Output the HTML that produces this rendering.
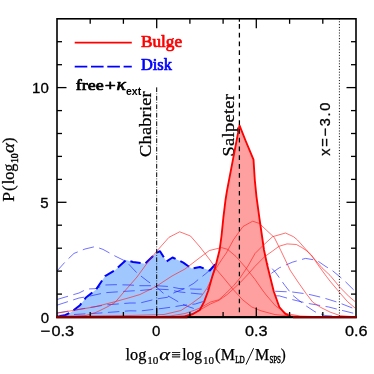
<!DOCTYPE html>
<html><head><meta charset="utf-8"><title>P(log alpha)</title>
<style>html,body{margin:0;padding:0;background:#fff;}svg{display:block;will-change:transform;}</style>
</head><body>
<svg width="374" height="374" viewBox="0 0 374 374">
<rect width="374" height="374" fill="#fff"/>
<defs><clipPath id="c"><rect x="57.0" y="18.8" width="299.0" height="298.2"/></clipPath></defs>
<g transform="translate(150.6,156.9) rotate(-90) scale(1.15,1)" fill="#000" stroke="#000" stroke-width="0.25"><text x="0" y="0" font-family="Liberation Serif, serif" font-size="16" letter-spacing="0.15">Chabrier</text></g>
<g transform="translate(233.8,156.4) rotate(-90) scale(1.15,1)" fill="#000" stroke="#000" stroke-width="0.25"><text x="0" y="0" font-family="Liberation Serif, serif" font-size="16" letter-spacing="0.25">Salpeter</text></g>
<g transform="translate(330.4,155.7) rotate(-90)" fill="#000" stroke="#000" stroke-width="0.3"><text x="0" y="0" font-family="Liberation Sans, sans-serif" font-size="14.5" letter-spacing="1.75">x=−3.0</text></g>
<g clip-path="url(#c)" fill="none" stroke-linejoin="round">
<polygon points="57.0,316.8 65.0,315.2 71.0,312.2 80.0,305.2 86.0,297.5 96.1,289.5 105.1,276.1 115.2,270.0 126.2,260.0 133.0,262.0 145.0,263.7 156.0,253.2 160.0,251.2 166.5,261.4 172.5,257.5 183.3,262.6 191.7,268.6 200.0,267.0 209.8,270.5 214.6,265.0 222.0,262.0 240.0,300.0 250.0,317.0 57.0,317.0" fill="#a0c8ff" stroke="none"/>
<polyline points="57.0,271.0 66.0,261.0 74.0,253.4 85.0,249.0 95.1,246.6 103.0,249.4 115.0,256.0 126.2,261.5 137.0,273.0 148.0,281.5 157.0,287.5 163.0,293.0 173.2,298.8 182.0,304.0 188.0,306.5 195.3,309.0 205.0,312.0 220.0,315.0 240.0,316.5" stroke="#1818ff" stroke-width="0.62" stroke-dasharray="11.5 5.5"/>
<polyline points="57.0,299.5 79.0,293.0 87.0,289.0 95.0,288.7 105.0,285.0 115.0,284.7 130.0,285.0 140.0,285.7 156.0,285.7 169.0,286.5 179.0,288.5 196.8,289.2 207.0,289.2 240.0,290.0 273.7,291.2 292.4,292.0 307.4,294.0 323.0,297.7 338.0,302.4 355.0,309.0" stroke="#1818ff" stroke-width="0.62" stroke-dasharray="11.5 5.5"/>
<polyline points="57.0,305.2 79.0,298.0 87.0,296.7 105.0,292.7 130.0,291.0 140.0,290.5 156.0,289.0 169.0,289.7 180.0,292.0 200.0,294.0 240.0,295.0 279.3,295.9 292.4,299.6 307.4,303.3 328.7,307.0 343.7,310.8 355.0,313.6" stroke="#1818ff" stroke-width="0.62" stroke-dasharray="11.5 5.5"/>
<polyline points="57.0,313.0 75.0,310.0 105.0,305.0 130.0,303.0 140.0,303.0 156.0,299.0 167.4,297.3 172.0,293.7 179.0,290.7 185.0,288.5 193.8,283.3 198.2,279.6 205.6,273.8 211.5,268.6 225.0,255.0 240.0,250.0 255.0,254.0 267.2,263.0 275.6,272.5 285.0,285.6 292.4,295.0 303.7,304.3 315.0,311.8 325.0,315.5 340.0,316.6" stroke="#1818ff" stroke-width="0.62" stroke-dasharray="11.5 5.5"/>
<polyline points="57.0,315.5 100.0,313.0 130.0,310.8 140.0,311.0 163.0,308.3 173.2,306.9 182.0,305.4 195.3,304.0 202.6,301.7 230.0,292.0 255.0,282.0 270.0,274.3 279.3,267.8 292.4,262.2 305.5,258.4 316.8,260.3 325.0,266.0 332.4,270.6 343.7,280.0 355.0,291.2" stroke="#1818ff" stroke-width="0.62" stroke-dasharray="11.5 5.5"/>
<polyline points="57.0,316.8 65.0,315.2 71.0,312.2 80.0,305.2 86.0,297.5 96.1,289.5 105.1,276.1 115.2,270.0 126.2,260.0 133.0,262.0 145.0,263.7 156.0,253.2 160.0,251.2 166.5,261.4 172.5,257.5 183.3,262.6 191.7,268.6 200.0,267.0 209.8,270.5 214.6,265.0 222.0,262.0" stroke="#0000ff" stroke-width="2.0" stroke-dasharray="10.4 5.2" stroke-dashoffset="13.1"/>
<polygon points="57.0,317.0 170.0,317.0 185.0,316.5 193.0,314.0 199.8,310.0 204.1,301.9 208.4,290.2 212.2,276.7 215.5,266.4 219.6,250.0 221.5,236.0 223.4,217.4 225.5,200.0 227.0,190.6 239.5,125.3 245.5,140.5 253.5,159.6 254.8,180.0 256.5,196.8 259.3,217.4 262.0,236.0 264.0,250.0 267.2,265.0 273.7,291.2 279.3,307.0 285.0,313.6 290.6,316.4 300.0,317.0 356.0,317.0" fill="#ffa0a0" stroke="none"/>
<polyline points="57.0,313.2 95.0,306.8 115.0,301.7 130.0,297.5 140.0,294.5 156.0,286.5 172.0,276.0 185.0,269.0 200.0,257.5 209.4,250.5 221.5,247.6 227.5,249.3 236.0,256.5 245.5,267.4 255.0,279.4 262.4,290.0 266.2,295.0 275.6,306.0 286.8,313.6 300.0,316.0 320.0,316.8" stroke="#ff1818" stroke-width="0.62"/>
<polyline points="57.0,316.5 75.0,316.2 85.0,315.6 90.0,314.3 95.0,312.8 100.0,310.5 108.0,306.5 115.0,302.5 123.0,293.0 130.0,285.0 137.0,277.0 145.0,266.0 156.0,252.0 169.0,237.3 179.7,231.8 190.5,236.0 200.0,247.0 210.0,260.0 216.7,269.8 223.7,278.0 233.0,289.3 242.4,299.6 251.8,307.0 261.0,310.8 275.0,314.6 300.0,316.8" stroke="#ff1818" stroke-width="0.62"/>
<polyline points="57.0,316.3 130.0,315.5 164.0,314.5 181.0,310.5 191.0,304.0 201.0,296.7 207.0,288.2 210.6,281.0 215.3,269.6 221.8,259.4 226.3,253.0 233.5,239.7 243.0,226.5 252.7,221.2 259.3,223.4 266.8,230.5 274.3,237.5 280.7,250.3 287.0,263.5 290.0,270.0 298.0,282.0 306.0,293.4 312.7,302.1 320.7,307.4 330.1,312.1 340.0,315.6 355.0,316.8" stroke="#ff1818" stroke-width="0.62"/>
<polyline points="150.0,317.0 170.0,316.0 185.0,313.5 195.0,310.0 201.0,307.5 210.6,302.0 219.0,299.7 226.3,293.0 233.5,285.8 240.0,278.0 248.0,266.0 255.0,253.5 263.0,245.5 272.6,236.7 285.5,233.0 293.5,236.7 297.5,240.0 307.0,250.7 311.4,255.0 317.8,264.6 326.4,276.4 330.6,281.8 340.0,293.0 347.4,301.5 355.0,308.0" stroke="#ff1818" stroke-width="0.62"/>
<polyline points="170.0,317.0 190.0,315.0 201.0,309.3 210.6,303.9 219.0,300.3 227.5,294.3 240.0,282.8 248.0,274.3 255.0,266.3 264.6,256.7 272.6,251.0 279.0,246.3 287.0,243.9 296.4,244.5 301.8,247.5 307.0,251.0 313.5,258.0 322.0,267.8 330.0,275.3 340.0,287.4 349.3,296.8 355.0,301.5" stroke="#ff1818" stroke-width="0.62"/>
</g>
<polyline points="185.0,316.5 193.0,314.0 199.8,310.0 204.1,301.9 208.4,290.2 212.2,276.7 215.5,266.4 219.6,250.0 221.5,236.0 223.4,217.4 225.5,200.0 227.0,190.6 239.5,125.3 245.5,140.5 253.5,159.6 254.8,180.0 256.5,196.8 259.3,217.4 262.0,236.0 264.0,250.0 267.2,265.0 273.7,291.2 279.3,307.0 285.0,313.6 290.6,316.4 300.0,317.0" fill="none" stroke="#ff0000" stroke-width="1.85" stroke-linejoin="round"/>
<line x1="156.7" y1="87.35" x2="156.7" y2="317.0" stroke="#000" stroke-width="1.0" stroke-dasharray="4.7 1.5 0.7 1.6"/>
<line x1="239.4" y1="18.8" x2="239.4" y2="21.7" stroke="#000" stroke-width="1.25"/>
<line x1="239.4" y1="24.1" x2="239.4" y2="164.1" stroke="#000" stroke-width="1.25" stroke-dasharray="4.6 4.15"/>
<line x1="239.4" y1="164.1" x2="239.4" y2="317.0" stroke="#000" stroke-width="1.25" stroke-dasharray="4.6 4.37"/>
<line x1="339.4" y1="18.5" x2="339.4" y2="317.0" stroke="#000" stroke-width="1" stroke-dasharray="1 1.8"/>
<rect x="57.0" y="18.8" width="299.0" height="298.2" stroke="#000" stroke-width="1.6" fill="none"/>
<g stroke="#000" stroke-width="1.3" fill="none">
<line x1="90.2" y1="317.0" x2="90.2" y2="312.0"/>
<line x1="90.2" y1="18.8" x2="90.2" y2="23.8"/>
<line x1="123.4" y1="317.0" x2="123.4" y2="312.0"/>
<line x1="123.4" y1="18.8" x2="123.4" y2="23.8"/>
<line x1="156.7" y1="317.0" x2="156.7" y2="307.5"/>
<line x1="156.7" y1="18.8" x2="156.7" y2="28.3"/>
<line x1="189.9" y1="317.0" x2="189.9" y2="312.0"/>
<line x1="189.9" y1="18.8" x2="189.9" y2="23.8"/>
<line x1="223.1" y1="317.0" x2="223.1" y2="312.0"/>
<line x1="223.1" y1="18.8" x2="223.1" y2="23.8"/>
<line x1="256.3" y1="317.0" x2="256.3" y2="307.5"/>
<line x1="256.3" y1="18.8" x2="256.3" y2="28.3"/>
<line x1="289.6" y1="317.0" x2="289.6" y2="312.0"/>
<line x1="289.6" y1="18.8" x2="289.6" y2="23.8"/>
<line x1="322.8" y1="317.0" x2="322.8" y2="312.0"/>
<line x1="322.8" y1="18.8" x2="322.8" y2="23.8"/>
<line x1="57.0" y1="294.1" x2="62.0" y2="294.1"/>
<line x1="356.0" y1="294.1" x2="351.0" y2="294.1"/>
<line x1="57.0" y1="271.1" x2="62.0" y2="271.1"/>
<line x1="356.0" y1="271.1" x2="351.0" y2="271.1"/>
<line x1="57.0" y1="248.2" x2="62.0" y2="248.2"/>
<line x1="356.0" y1="248.2" x2="351.0" y2="248.2"/>
<line x1="57.0" y1="225.2" x2="62.0" y2="225.2"/>
<line x1="356.0" y1="225.2" x2="351.0" y2="225.2"/>
<line x1="57.0" y1="202.3" x2="66.5" y2="202.3"/>
<line x1="356.0" y1="202.3" x2="346.5" y2="202.3"/>
<line x1="57.0" y1="179.4" x2="62.0" y2="179.4"/>
<line x1="356.0" y1="179.4" x2="351.0" y2="179.4"/>
<line x1="57.0" y1="156.4" x2="62.0" y2="156.4"/>
<line x1="356.0" y1="156.4" x2="351.0" y2="156.4"/>
<line x1="57.0" y1="133.5" x2="62.0" y2="133.5"/>
<line x1="356.0" y1="133.5" x2="351.0" y2="133.5"/>
<line x1="57.0" y1="110.6" x2="62.0" y2="110.6"/>
<line x1="356.0" y1="110.6" x2="351.0" y2="110.6"/>
<line x1="57.0" y1="87.6" x2="66.5" y2="87.6"/>
<line x1="356.0" y1="87.6" x2="346.5" y2="87.6"/>
<line x1="57.0" y1="64.7" x2="62.0" y2="64.7"/>
<line x1="356.0" y1="64.7" x2="351.0" y2="64.7"/>
<line x1="57.0" y1="41.7" x2="62.0" y2="41.7"/>
<line x1="356.0" y1="41.7" x2="351.0" y2="41.7"/>
</g>
<line x1="56.2" y1="317.15" x2="356.8" y2="317.15" stroke="#000" stroke-width="2.0"/>
<line x1="56.2" y1="317.2" x2="187.5" y2="317.2" stroke="#840000" stroke-width="2.2"/>
<line x1="293" y1="317.2" x2="356.8" y2="317.2" stroke="#840000" stroke-width="2.2"/>
<g fill="#000" stroke="#000" stroke-width="0.3" text-anchor="end">
<text x="48.8" y="93.1" font-family="Liberation Sans, sans-serif" font-size="15" >10</text>
<text x="48.6" y="208.3" font-family="Liberation Sans, sans-serif" font-size="15" >5</text>
<text x="49.0" y="323.1" font-family="Liberation Sans, sans-serif" font-size="15" >0</text>
</g>
<g fill="#000" stroke="#000" stroke-width="0.3">
<text x="40.6" y="336.2" font-family="Liberation Sans, sans-serif" font-size="15" textLength="9.8" lengthAdjust="spacingAndGlyphs" >−</text>
<text x="51.4" y="336.2" font-family="Liberation Sans, sans-serif" font-size="15" textLength="22.6" lengthAdjust="spacingAndGlyphs" >0.3</text>
<text x="152.0" y="336.2" font-family="Liberation Sans, sans-serif" font-size="15" >0</text>
<text x="244.9" y="336.2" font-family="Liberation Sans, sans-serif" font-size="15" textLength="22.6" lengthAdjust="spacingAndGlyphs" >0.3</text>
<text x="345.0" y="336.2" font-family="Liberation Sans, sans-serif" font-size="15" textLength="22.6" lengthAdjust="spacingAndGlyphs" >0.6</text>
</g>
<line x1="74.7" y1="42.7" x2="131.8" y2="42.7" stroke="#ff0000" stroke-width="1.7"/>
<line x1="74.7" y1="66.6" x2="131.8" y2="66.6" stroke="#0000ff" stroke-width="1.7" stroke-dasharray="12.6 3.7"/>
<text x="140.9" y="46.5" font-family="Liberation Serif, serif" font-size="16" textLength="41.2" lengthAdjust="spacingAndGlyphs" stroke-width="0.7" stroke-linejoin="round" fill="#ff0000" stroke="#ff0000">Bulge</text>
<text x="140.9" y="70.0" font-family="Liberation Serif, serif" font-size="16" textLength="31.0" lengthAdjust="spacingAndGlyphs" stroke-width="0.7" stroke-linejoin="round" fill="#0000ff" stroke="#0000ff">Disk</text>
<text x="75.8" y="90.4" font-family="Liberation Serif, serif" font-size="15" textLength="28.0" lengthAdjust="spacingAndGlyphs" stroke-width="0.7" stroke-linejoin="round" stroke="#000">free</text>
<text x="104.8" y="90.4" font-family="Liberation Serif, serif" font-size="15" textLength="11.0" lengthAdjust="spacingAndGlyphs" stroke-width="0.7" stroke-linejoin="round" stroke="#000">+</text>
<text x="116.4" y="90.4" font-family="Liberation Serif, serif" font-size="17" textLength="9.4" lengthAdjust="spacingAndGlyphs" stroke-width="0.7" stroke-linejoin="round" stroke="#000" font-style="italic">κ</text>
<text x="126.0" y="95.0" font-family="Liberation Sans, sans-serif" font-size="10" textLength="15.2" lengthAdjust="spacingAndGlyphs" font-weight="bold">ext</text>
<g fill="#000" stroke="#000" stroke-width="0.25">
<text x="125.6" y="360.3" font-family="Liberation Serif, serif" font-size="16" textLength="20.8" lengthAdjust="spacingAndGlyphs" >log</text>
<text x="147.2" y="363.5" font-family="Liberation Serif, serif" font-size="10.5" textLength="11.2" lengthAdjust="spacingAndGlyphs" stroke-width="0.2">10</text>
<text x="159.2" y="360.3" font-family="Liberation Serif, serif" font-size="17" textLength="10.8" lengthAdjust="spacingAndGlyphs" font-style="italic">α</text>
<text x="171.2" y="360.3" font-family="Liberation Serif, serif" font-size="16" textLength="9.6" lengthAdjust="spacingAndGlyphs" >≡</text>
<text x="182.2" y="360.3" font-family="Liberation Serif, serif" font-size="16" textLength="19.8" lengthAdjust="spacingAndGlyphs" >log</text>
<text x="203.0" y="363.5" font-family="Liberation Serif, serif" font-size="10.5" textLength="11.0" lengthAdjust="spacingAndGlyphs" stroke-width="0.2">10</text>
<text x="215.0" y="360.3" font-family="Liberation Serif, serif" font-size="16" textLength="5.6" lengthAdjust="spacingAndGlyphs" >(</text>
<text x="220.8" y="360.3" font-family="Liberation Serif, serif" font-size="16" textLength="14.2" lengthAdjust="spacingAndGlyphs" >M</text>
<text x="235.2" y="362.90000000000003" font-family="Liberation Serif, serif" font-size="9.5" textLength="9.6" lengthAdjust="spacingAndGlyphs" stroke-width="0.45">LD</text>
<line x1="246.0" y1="364.6" x2="253.6" y2="348.2" stroke="#000" stroke-width="0.95"/>
<text x="255.0" y="360.3" font-family="Liberation Serif, serif" font-size="16" textLength="14.2" lengthAdjust="spacingAndGlyphs" >M</text>
<text x="269.4" y="362.90000000000003" font-family="Liberation Serif, serif" font-size="9.5" textLength="11.6" lengthAdjust="spacingAndGlyphs" stroke-width="0.45">SPS</text>
<text x="280.8" y="360.3" font-family="Liberation Serif, serif" font-size="16" textLength="5.0" lengthAdjust="spacingAndGlyphs" >)</text>
</g>
<g transform="translate(14,201.8) rotate(-90)" fill="#000" stroke="#000" stroke-width="0.25">
<text x="0" y="0" font-family="Liberation Serif, serif" font-size="16" textLength="9.8" lengthAdjust="spacingAndGlyphs" >P</text>
<text x="10.8" y="0" font-family="Liberation Serif, serif" font-size="16" textLength="5.6" lengthAdjust="spacingAndGlyphs" >(</text>
<text x="17.5" y="0" font-family="Liberation Serif, serif" font-size="16" textLength="20.6" lengthAdjust="spacingAndGlyphs" >log</text>
<text x="38.8" y="3.6" font-family="Liberation Serif, serif" font-size="10" textLength="9.6" lengthAdjust="spacingAndGlyphs" stroke-width="0.45">10</text>
<text x="48.8" y="0" font-family="Liberation Serif, serif" font-size="17" textLength="10.0" lengthAdjust="spacingAndGlyphs" font-style="italic">α</text>
<text x="58.8" y="0" font-family="Liberation Serif, serif" font-size="16" textLength="5.4" lengthAdjust="spacingAndGlyphs" >)</text>
</g>
</svg>
</body></html>
